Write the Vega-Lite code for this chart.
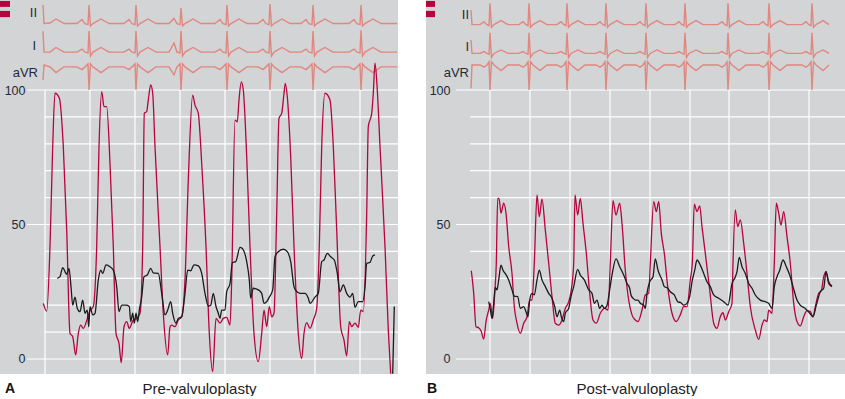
{
"$schema":"https://vega.github.io/schema/vega-lite/v6.json",
"padding":0,
"background":"white",
"config":{"view":{"stroke":null},"concat":{"spacing":26},"font":"Liberation Sans",
"axisX":{"labels":false,"ticks":false,"domain":false,"grid":false,"titlePadding":7,"titleFontSize":15,"titleFontWeight":"normal","titleColor":"#222222","titleFont":"Liberation Sans"},
"axisY":{"ticks":false,"domain":false,"grid":false,"labelPadding":0,"labelFontSize":12.5,"labelColor":"#222a3a","labelFont":"Liberation Sans"}},
"datasets":{
"eA":[
{"k":"II","t":[43,44,50,56,64,77,82,85,88,89,90.5,93,101,109,124,129,132,135,136,137.5,140,148,156,169,174,177,180,181,182.5,185,193,201,215,220,223,226,227,228.5,231,239,247,258,263,266,269,270,271.5,274,282,290,301,306,309,312,313,314.5,317,325,333,349,354,357,360,361,362.5,365,373,381,397],
"v":[131.6,124.7,124.9,126.4,124.7,124.7,126.2,124.7,124.3,131.6,123.8,124.7,126.4,124.7,124.7,126.2,124.7,124.3,131.6,123.8,124.7,126.4,124.7,124.7,126.6,124.7,124.3,130.5,123.8,124.7,126.4,124.7,124.7,126.2,124.7,124.3,131.6,123.8,124.7,126.4,124.7,124.7,126.2,124.7,124.3,132,123.8,124.7,126.4,124.7,124.7,126.2,124.7,124.3,131.6,123.8,124.7,126.4,124.7,124.7,126.2,124.7,124.3,131.6,123.8,124.7,126.4,124.7,124.7]},
{"k":"I","t":[43,44,50,56,64,77,82,85,88,89,90.5,93,101,109,124,129,132,135,136,137.5,140,148,156,169,174,177,180,181,182.5,185,193,201,215,220,223,226,227,228.5,231,239,247,258,263,266,269,270,271.5,274,282,290,301,306,309,312,313,314.5,317,325,333,349,354,357,360,361,362.5,365,373,381,397],
"v":[121.9,114.1,114.1,115.8,114.1,114.1,115.2,114.1,113.8,121.9,112.6,114.1,115.8,114.1,114.1,115.2,114.1,113.8,121.9,112.6,114.1,115.8,114.1,114.1,117.5,114.1,113.8,121.9,112.6,114.1,115.8,114.1,114.1,115.2,114.1,113.8,121.9,112.6,114.1,115.8,114.1,114.1,115.2,114.1,113.8,121.9,112.6,114.1,115.8,114.1,114.1,115.2,114.1,113.8,121.9,112.6,114.1,115.8,114.1,114.1,115.2,114.1,113.8,122.2,112.6,114.1,115.8,114.1,114.1]},
{"k":"aVR","t":[43,44,50,56,64,77,82,85,88,89,90.5,93,101,109,124,129,132,135,136,137.5,140,148,156,169,174,177,180,181,182.5,185,193,201,215,220,223,226,227,228.5,231,239,247,258,263,266,269,270,271.5,274,282,290,301,306,309,312,313,314.5,317,325,333,349,354,357,360,361,362.5,365,373,381,397],
"v":[103.7,109.3,108.6,106.5,108.6,108.6,107.6,108.6,109.7,100,109.7,108.6,106.5,108.6,108.6,107.6,108.6,109.7,100,109.7,108.6,106.5,108.6,108.6,105.6,108.6,109.7,100,109.7,108.6,106.5,108.6,108.6,107.6,108.6,109.7,100,109.7,108.6,106.5,108.6,108.6,107.6,108.6,109.7,100,109.7,108.6,106.5,108.6,108.6,107.6,108.6,109.7,100,109.7,108.6,106.5,108.6,108.6,107.6,108.6,109.7,100,109.7,108.6,106.5,108.6,108.6]}
],
"eB":[
{"k":"II","t":[45,46,54,58,61,63,64,65.5,68,75,82,93,97,100,102,103,104.5,107,114,121,131,135,138,140,141,142.5,145,152,159,170,174,177,179,180,181.5,184,191,198,210,214,217,219,220,221.5,224,231,238,249,253,256,258,259,260.5,263,270,277,292,296,299,301,302,303.5,306,313,320,333,337,340,342,343,344.5,347,354,361,376,380,383,385,386,387.5,390,397,403],
"v":[129.7,124.3,124.3,125.4,124.3,123.9,132.2,123.3,124.3,125.8,124.3,124.3,125.4,124.3,123.9,132.2,123.3,124.3,125.8,124.3,124.3,125.4,124.3,123.9,132.2,123.3,124.3,125.8,124.3,124.3,125.4,124.3,123.9,132.2,123.3,124.3,125.8,124.3,124.3,125.4,124.3,123.9,132.2,123.3,124.3,125.8,124.3,124.3,125.4,124.3,123.9,132.2,123.3,124.3,125.8,124.3,124.3,125.4,124.3,123.9,132.2,123.3,124.3,125.8,124.3,124.3,125.4,124.3,123.9,132.2,123.3,124.3,125.8,124.3,124.3,125.4,124.3,123.9,132.2,123.3,124.3,125.8,124.3]},
{"k":"I","t":[45,46,54,58,61,63,64,65.5,68,75,82,93,97,100,102,103,104.5,107,114,121,131,135,138,140,141,142.5,145,152,159,170,174,177,179,180,181.5,184,191,198,210,214,217,219,220,221.5,224,231,238,249,253,256,258,259,260.5,263,270,277,292,296,299,301,302,303.5,306,313,320,333,337,340,342,343,344.5,347,354,361,376,380,383,385,386,387.5,390,397,403],
"v":[118.6,113.6,113.6,114.3,113.6,113.3,121.3,112.1,113.6,114.9,113.6,113.6,114.3,113.6,113.3,121.3,112.1,113.6,114.9,113.6,113.6,114.3,113.6,113.3,121.3,112.1,113.6,114.9,113.6,113.6,114.3,113.6,113.3,121.3,112.1,113.6,114.9,113.6,113.6,114.3,113.6,113.3,121.3,112.1,113.6,114.9,113.6,113.6,114.3,113.6,113.3,121.3,112.1,113.6,114.9,113.6,113.6,114.3,113.6,113.3,121.3,112.1,113.6,114.9,113.6,113.6,114.3,113.6,113.3,121.3,112.1,113.6,114.9,113.6,113.6,114.3,113.6,113.3,121.3,112.1,113.6,114.9,113.6]},
{"k":"aVR","t":[45,46,54,58,61,63,64,65.5,68,75,82,93,97,100,102,103,104.5,107,114,121,131,135,138,140,141,142.5,145,152,159,170,174,177,179,180,181.5,184,191,198,210,214,217,219,220,221.5,224,231,238,249,253,256,258,259,260.5,263,270,277,292,296,299,301,302,303.5,306,313,320,333,337,340,342,343,344.5,347,354,361,376,380,383,385,386,387.5,390,397,403],
"v":[100.6,109.3,109.3,108.5,109.3,110.5,100,110.5,109.3,107.2,109.3,109.3,108.5,109.3,110.5,100,110.5,109.3,107.2,109.3,109.3,108.5,109.3,110.5,100,110.5,109.3,107.2,109.3,109.3,108.5,109.3,110.5,100,110.5,109.3,107.2,109.3,109.3,108.5,109.3,110.5,100,110.5,109.3,107.2,109.3,109.3,108.5,109.3,110.5,100,110.5,109.3,107.2,109.3,109.3,108.5,109.3,110.5,100,110.5,109.3,107.2,109.3,109.3,108.5,109.3,110.5,100,110.5,109.3,107.2,109.3,109.3,108.5,109.3,110.5,100,110.5,109.3,107.2,109.3]}
],
"pA":[
{"s":"lv","t":[43.3,46.7,50,52.7,55,59.3,63.3,66.7,70,72.7,75.7,78.3,80.7,83.3,87.3,90,93.3,96.7,99,101.7,104,106.7,110,113.3,116,119,121.3,124,126.7,129.3,133.3,136.7,140,142.7,144.3,146.7,148.3,150.7,152.7,155,160,163.3,167.7,170,171.7,175,178.3,181.7,185,188.3,192.7,195,198.3,201.7,206,209.3,212.7,216,220,223.3,226.7,230,231.7,235,237.3,239,241.3,243.3,246.7,250,254,258.3,261.7,264,266.7,269.3,271.7,274,276.7,279,281.7,284,285.3,287.3,290.7,294,298.3,301.7,304,306.7,310,313.3,316.7,319.3,321.7,325,330,333.3,336.7,340.7,344,346.7,349.3,351.7,355,358.3,360.7,363.3,366.7,368.3,371.7,373.3,375,377.3,380,385,388.3,390.7],
"v":[20.7,17.8,41.8,79,98.8,97,79,48,9.5,8.3,1.5,9.5,12.6,11.4,15,18,19.5,41.8,79,99.4,93.8,93.8,72.7,41.8,9.5,5.8,-1.4,12,13.9,11.4,14.5,15.1,17,41.8,91.3,92,96.3,101.9,98.8,79,41.8,17,1.5,12,12.6,12,14.5,15.7,29.4,66.5,98.1,94.4,91.3,72.7,41.8,9.5,-4.7,15.1,13.3,15.1,15.5,12.6,29.4,88.8,88.2,96.3,103,100,75.2,41.8,9.5,-1,9.5,18.2,12,19.5,15.7,17,54,89.5,91.3,98.8,102.5,97.5,75.2,41.8,9.5,0.2,9.5,13.5,11.4,14.5,18.8,41.8,79,98.8,96.3,79,48,12,7,1.1,13.9,12,13.3,11.8,18.2,17.6,54,86.4,91.3,98.8,110,100,79,41.8,10.8,-5.5]},
{"s":"ao","t":[57.3,60,62.7,65,66.7,69,71,72.7,75,77.3,80,82.7,85,87.3,88.7,90,92.7,95,98.3,100.7,102.7,106,110,113.3,116.7,119,121.7,126,129.3,130.7,132.7,134.3,136,137.7,139.3,141.7,144,147.3,150.7,153.3,158.3,161.7,165,167.7,170.7,172.7,176,178.3,181.7,185,187.7,190.7,194,198.3,201.7,205,208.3,210.7,213.3,216,218.3,220,221.7,225,226.7,230,232.3,235.7,240,242.3,246.7,249.3,250.7,253.3,258.3,261.7,264,266.7,269.3,272.7,275,278.3,283.3,287.3,290.7,294,296,300,305,308.3,310,315,318.3,321.7,324,327.3,330.7,334.3,337.3,340,343.3,346.7,350,352.7,355,358.3,362.7,365,366.7,370,372.7,375],
"v":[30,30.6,34,32.5,31.5,33.7,26.9,20,23,18.8,17.6,21.9,17,18.2,12,19.5,16.4,17,29.4,33,31.8,35,34.3,33,26.9,17.6,20,20,19.5,13.9,17,13.3,17,13.9,18.2,23,30.6,31.2,33.7,32,31.8,24.4,16.4,18.2,21.3,17,13.3,15.1,15.7,24.4,33,32.8,35,34.6,31.8,24.4,19.7,20,24.4,19.5,17,15.1,18.2,18.2,25,28,35.8,36.2,41.5,41.1,36.2,29.4,22.6,26.3,25.7,24.4,20.7,21.3,23,25.7,38,39.9,40.8,39.9,36.2,26.9,25.4,24.4,24.4,22.6,20.7,23,24.4,36.2,36.8,39.3,38,36.8,31.8,25,27.5,24.4,23,24.4,19.2,21.3,21.3,26.9,35.6,35.9,38.3,38.7]},
{"s":"ao2","t":[392.7,394.3],"v":[-5.5,19.5]}
],
"pB":[
{"s":"lv","t":[45.3,47.7,50,52.7,55,57.7,60,62.7,64.3,66.7,68.7,70.3,71.7,73,75,77.7,80,82.7,86,88.3,91,94.3,97.7,101,103.7,106,108.3,111,113.3,116,119.3,122.7,126,129.3,132.7,136,139.3,142.7,145.3,147.7,149,151.7,154.3,157,160.3,163.7,167,170.3,174.3,178.7,182,184.3,187,190,193.7,196,199.3,202.7,206,209.3,212,216,219.3,222.7,224.3,227.7,230.3,232.7,235.3,238.3,241.7,246,250.3,254.3,257.7,261,264.3,266.3,268.3,271,273.7,276,279.3,283.7,287.7,291,294.3,297,299.3,302.7,306,307,309.3,311.7,314.3,317.7,321,324.3,329.3,332.7,336,338.3,341,342.7,346,348.3,350.3,352.7,355,357.7,361,364.3,367.7,371,374.3,377.7,381,384.3,387,389.3,392.7,395.3,397.7,400,402.7,406],
"v":[32.8,24.4,12,11.6,10.5,7.4,13.9,18.2,20.7,15.1,24.4,35.6,59.7,59.7,54.2,57.9,54.2,41.8,31.8,19.5,13.3,9.5,13.3,15.7,21.9,21.9,35.6,61,52.9,59.4,48,35.6,23.2,13.3,12.6,14.5,18.8,21.3,25.7,35.6,61,53.5,59.7,50.4,39.3,24.4,14.5,13.3,17,18.8,18.2,35.6,58.9,53.5,57.9,50.4,33,21.9,16.4,14.5,13.9,18.2,23.8,24.4,35.6,58.5,54.8,58.5,46.7,39.3,26.9,17,13.9,16.4,19.5,19.5,29.4,35.6,57.6,54.8,56.9,49.2,39.3,25.7,13.3,11.4,15.7,17.2,14.5,17.6,20.7,35.6,55.4,49.2,51.7,43,31.8,19.5,10.8,7.3,12.6,14.5,13.9,18.2,17,35.6,57.9,54.2,49.8,54.8,45.5,35.6,20.7,13.9,12.3,15.7,18,17.6,15.7,19.5,24.4,25.3,30.6,32.5,28,26.9]},
{"s":"ao","t":[62.7,64.3,66,67.7,69.3,71,72.7,75,77,80.3,82.7,86,88.3,91.7,94.3,97.7,100,102,103.7,106,108.3,111,113.3,116,119.3,122.7,126,128.7,131,133.7,135.3,137.7,139.3,142.7,145,147.7,151.7,154.3,158.3,162.7,166,168.3,171,173.7,176,178.3,181,183.7,186.3,190,193.7,197.7,201,203.7,205,207,209.3,212,214.3,217.7,219.3,221,223.7,227,229.3,232,236,238.3,241.7,244.3,248.3,251.7,255,257.7,261,263.7,266,268.7,271,274.3,277.7,281,284.3,287.7,292.7,297.7,302,306,309.3,311,313.3,316,319.3,322.7,326,329.3,334.3,339.3,342.7,346,348.3,351,353.7,357,360.3,363.7,367,371,374.3,379.3,383.7,387,390.3,394.3,397.7,400,402.7,406],
"v":[21.3,18.5,15.1,20.7,26.6,25.7,29.4,34.9,33,31.2,29.4,25.7,23.4,23.2,18.8,19.5,17.6,15.7,21.9,24.4,23.8,29.4,33,29.4,26.9,24.4,22.6,19.5,15.7,18.2,15.7,13.9,17,18.8,23.2,26.9,33.3,31.2,29.4,25.7,24.4,20.7,21.9,18.8,20,18.8,20,25.7,31.8,37.2,34.3,31.2,28.1,26.3,23.8,22.6,21.9,21.9,20.7,20,18.8,24.4,28.7,30.6,37.2,33,29.4,26.9,26.3,25,23.8,21.3,20.9,20,20.7,23.2,28.7,33,36.8,34.9,31.8,28.7,26.9,23.8,22.6,21.3,20,28,30.5,32.5,37.8,34.3,31.8,28.1,26.3,23.8,21.9,21.3,20.7,18.8,26.9,30.6,33,36.8,34.3,31.2,26.9,21.9,20,18.8,17,15.7,20,25,26.3,32.5,28.7,27.1]}
]
},
"hconcat":[
{
"width":398,"height":374,
"view":{"fill":"#d3d4d6","stroke":null},
"title":{"text":"A","orient":"bottom","anchor":"start","dx":5,"offset":-14,"fontSize":14,"fontWeight":"bold","color":"#111111","font":"Liberation Sans"},
"layer":[
{"data":{"values":[{"g":10},{"g":20},{"g":30},{"g":40},{"g":60},{"g":70},{"g":80},{"g":90}]},
"mark":{"type":"rule","color":"#ffffff","strokeWidth":1.2},
"encoding":{"y":{"field":"g","type":"quantitative","title":null,"scale":{"domain":[-5.58,133.46],"nice":false,"zero":false},"axis":{"values":[0,50,100],"offset":-25,"title":null}},
"x":{"datum":45,"type":"quantitative","title":"Pre-valvuloplasty","scale":{"domain":[0,398],"nice":false,"zero":false},"axis":{"title":"Pre-valvuloplasty"}},"x2":{"datum":398}}},
{"data":{"values":[{"g":0},{"g":50},{"g":100}]},
"mark":{"type":"rule","color":"#ffffff","strokeWidth":1.2},
"encoding":{"y":{"field":"g","type":"quantitative","title":null},
"x":{"datum":27,"type":"quantitative","title":"Pre-valvuloplasty"},"x2":{"datum":398}}},
{"data":{"values":[{"g":45},{"g":90},{"g":135},{"g":180},{"g":225},{"g":270},{"g":315},{"g":360}]},
"mark":{"type":"rule","color":"#ffffff","strokeWidth":1.2},
"encoding":{"x":{"field":"g","type":"quantitative","title":"Pre-valvuloplasty"},
"y":{"datum":-5.58,"type":"quantitative","title":null},"y2":{"datum":100}}},
{"data":{"name":"eA"},"transform":[{"flatten":["t","v"]}],
"mark":{"type":"line","color":"#e0877f","strokeWidth":1.4},
"encoding":{"x":{"field":"t","type":"quantitative","title":"Pre-valvuloplasty"},"y":{"field":"v","type":"quantitative","title":null},"detail":{"field":"k"}}},
{"data":{"name":"pA"},"transform":[{"flatten":["t","v"]}],
"mark":{"type":"line","strokeWidth":1.3,"interpolate":"monotone"},
"encoding":{"x":{"field":"t","type":"quantitative","title":"Pre-valvuloplasty"},
"y":{"field":"v","type":"quantitative","title":null},
"color":{"field":"s","type":"nominal","scale":{"domain":["lv","ao","ao2"],"range":["#b5053c","#1b1b1b","#1b1b1b"]},"legend":null}}},
{"data":{"values":[{"lead":"II"}]},"mark":{"type":"text","align":"right","baseline":"middle","fontSize":13,"color":"#222a3a"},
"encoding":{"x":{"datum":37,"type":"quantitative","title":"Pre-valvuloplasty"},"y":{"datum":128.5,"type":"quantitative","title":null},"text":{"field":"lead"}}},
{"data":{"values":[{"lead":"I"}]},"mark":{"type":"text","align":"right","baseline":"middle","fontSize":13,"color":"#222a3a"},
"encoding":{"x":{"datum":36,"type":"quantitative","title":"Pre-valvuloplasty"},"y":{"datum":116.5,"type":"quantitative","title":null},"text":{"field":"lead"}}},
{"data":{"values":[{"lead":"aVR"}]},"mark":{"type":"text","align":"right","baseline":"middle","fontSize":13,"color":"#222a3a"},
"encoding":{"x":{"datum":38,"type":"quantitative","title":"Pre-valvuloplasty"},"y":{"datum":106.3,"type":"quantitative","title":null},"text":{"field":"lead"}}},
{"data":{"values":[{"k":"m1"}]},"mark":{"type":"rect","color":"#b5053c"},
"encoding":{"x":{"datum":0,"type":"quantitative","title":"Pre-valvuloplasty"},"x2":{"datum":10},"y":{"datum":133.1,"type":"quantitative","title":null},"y2":{"datum":130.9}}},
{"data":{"values":[{"k":"m2"}]},"mark":{"type":"rect","color":"#b5053c"},
"encoding":{"x":{"datum":0,"type":"quantitative","title":"Pre-valvuloplasty"},"x2":{"datum":10},"y":{"datum":129.4,"type":"quantitative","title":null},"y2":{"datum":127.1}}}
]
},
{
"width":421,"height":374,
"view":{"fill":"#d3d4d6","stroke":null},
"title":{"text":"B","orient":"bottom","anchor":"start","dx":1,"offset":-14,"fontSize":14,"fontWeight":"bold","color":"#111111","font":"Liberation Sans"},
"layer":[
{"data":{"values":[{"g":10},{"g":20},{"g":30},{"g":40},{"g":60},{"g":70},{"g":80},{"g":90}]},
"mark":{"type":"rule","color":"#ffffff","strokeWidth":1.2},
"encoding":{"y":{"field":"g","type":"quantitative","title":null,"scale":{"domain":[-5.58,133.46],"nice":false,"zero":false},"axis":{"values":[0,50,100],"offset":-24,"title":null}},
"x":{"datum":44,"type":"quantitative","title":"Post-valvuloplasty","scale":{"domain":[0,421],"nice":false,"zero":false},"axis":{"title":"Post-valvuloplasty"}},"x2":{"datum":421}}},
{"data":{"values":[{"g":0},{"g":50},{"g":100}]},
"mark":{"type":"rule","color":"#ffffff","strokeWidth":1.2},
"encoding":{"y":{"field":"g","type":"quantitative","title":null},
"x":{"datum":30,"type":"quantitative","title":"Post-valvuloplasty"},"x2":{"datum":421}}},
{"data":{"values":[{"g":64},{"g":104},{"g":144},{"g":184},{"g":224},{"g":264},{"g":303},{"g":343},{"g":383}]},
"mark":{"type":"rule","color":"#ffffff","strokeWidth":1.2},
"encoding":{"x":{"field":"g","type":"quantitative","title":"Post-valvuloplasty"},
"y":{"datum":-5.58,"type":"quantitative","title":null},"y2":{"datum":100}}},
{"data":{"name":"eB"},"transform":[{"flatten":["t","v"]}],
"mark":{"type":"line","color":"#e0877f","strokeWidth":1.4},
"encoding":{"x":{"field":"t","type":"quantitative","title":"Post-valvuloplasty"},"y":{"field":"v","type":"quantitative","title":null},"detail":{"field":"k"}}},
{"data":{"name":"pB"},"transform":[{"flatten":["t","v"]}],
"mark":{"type":"line","strokeWidth":1.3,"interpolate":"monotone"},
"encoding":{"x":{"field":"t","type":"quantitative","title":"Post-valvuloplasty"},
"y":{"field":"v","type":"quantitative","title":null},
"color":{"field":"s","type":"nominal","scale":{"domain":["lv","ao"],"range":["#b5053c","#1b1b1b"]},"legend":null}}},
{"data":{"values":[{"lead":"II"}]},"mark":{"type":"text","align":"right","baseline":"middle","fontSize":13,"color":"#222a3a"},
"encoding":{"x":{"datum":43,"type":"quantitative","title":"Post-valvuloplasty"},"y":{"datum":128.0,"type":"quantitative","title":null},"text":{"field":"lead"}}},
{"data":{"values":[{"lead":"I"}]},"mark":{"type":"text","align":"right","baseline":"middle","fontSize":13,"color":"#222a3a"},
"encoding":{"x":{"datum":43,"type":"quantitative","title":"Post-valvuloplasty"},"y":{"datum":116.0,"type":"quantitative","title":null},"text":{"field":"lead"}}},
{"data":{"values":[{"lead":"aVR"}]},"mark":{"type":"text","align":"right","baseline":"middle","fontSize":13,"color":"#222a3a"},
"encoding":{"x":{"datum":43,"type":"quantitative","title":"Post-valvuloplasty"},"y":{"datum":106.3,"type":"quantitative","title":null},"text":{"field":"lead"}}},
{"data":{"values":[{"k":"m1"}]},"mark":{"type":"rect","color":"#b5053c"},
"encoding":{"x":{"datum":0,"type":"quantitative","title":"Post-valvuloplasty"},"x2":{"datum":9},"y":{"datum":133.1,"type":"quantitative","title":null},"y2":{"datum":130.9}}},
{"data":{"values":[{"k":"m2"}]},"mark":{"type":"rect","color":"#b5053c"},
"encoding":{"x":{"datum":0,"type":"quantitative","title":"Post-valvuloplasty"},"x2":{"datum":9},"y":{"datum":129.4,"type":"quantitative","title":null},"y2":{"datum":127.1}}}
]
}
]
}
